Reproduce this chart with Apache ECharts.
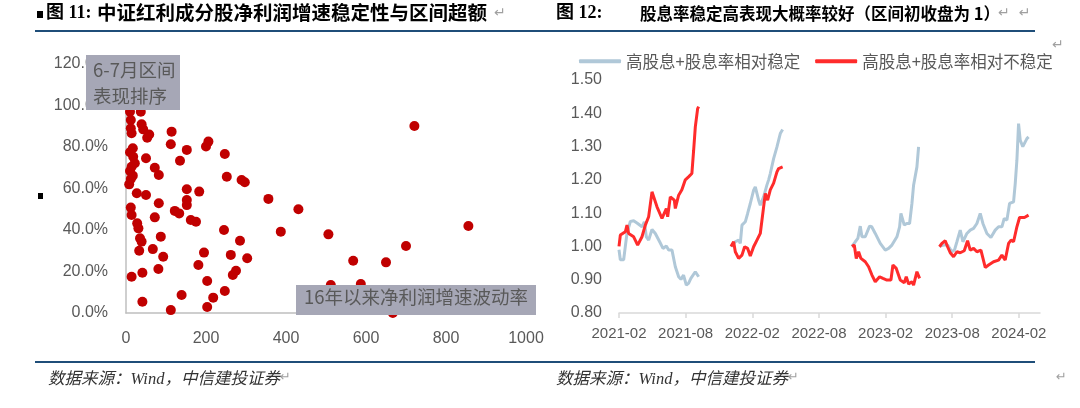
<!DOCTYPE html>
<html>
<head>
<meta charset="utf-8">
<script src="https://cdn.jsdelivr.net/npm/echarts@6/dist/echarts.min.js"></script>
<style>
  html, body { margin: 0; padding: 0; background: #fff; }
  #chart { width: 1080px; height: 408px; }
</style>
</head>
<body>
<div id="chart"></div>
<script>
// 图11：x = 16年以来净利润增速波动率, y = 6-7月区间表现排序(%)
var scatterPoints = [
  [10, 97], [37, 97], [12, 93], [39, 91], [12, 89], [43, 88.5], [14, 86.6], [53, 84.5], [58, 86],
  [114, 87.4], [112, 81.3], [206, 82.6], [200, 80.2], [152, 78.6], [247, 76.6], [17, 79.4], [10, 77.5],
  [50, 74.6], [18, 75.3], [135, 73.4], [22, 72.2], [14, 70.5], [10, 68.4], [17, 66.2], [12, 64.6], [8, 62],
  [72, 70], [82, 66.5], [252, 65.7], [289, 64.1], [297, 63], [27, 57.7], [50, 56.9], [152, 59.6], [183, 58.5],
  [356, 55], [431, 50], [82, 52.9], [152, 54.5], [152, 52], [12, 50.8], [14, 47.2], [72, 46.1], [122, 49.2],
  [133, 48], [162, 44.8], [175, 44], [28, 43.2], [31, 40.8], [245, 40], [387, 39.2], [285, 34.8], [35, 36],
  [39, 34.4], [87, 36.8], [67, 30.8], [33, 30], [93, 27.1], [195, 29.1], [262, 28], [303, 26.4], [181, 23.1],
  [81, 21.2], [275, 20.4], [267, 18.3], [41, 19.4], [14, 17.5], [203, 15.4], [247, 10.6], [139, 8.7],
  [218, 7.4], [203, 2.9], [41, 5.4], [112, 1.4], [721, 90.1], [506, 37.9], [856, 41.9], [568, 25.2],
  [650, 24.4], [700, 32.3], [512, 13.5], [587, 14], [667, 0]
];

// 图12：x = 自2021-02起的月数, y = 区间净值(区间初收盘为1)
var stableName = '高股息+股息率相对稳定';
var unstableName = '高股息+股息率相对不稳定';
var stableSegs = [
  [[0, 0.99], [0.12, 0.96], [0.42, 0.96], [0.57, 1.00], [0.72, 1.04], [1.02, 1.075], [1.32, 1.077], [1.68, 1.069],
   [2.07, 1.059], [2.28, 1.074], [2.46, 1.029], [2.67, 1.019], [2.97, 1.051], [3.27, 1.039], [3.66, 1.014],
   [3.96, 0.994], [4.26, 1.001], [4.47, 0.989], [4.77, 0.989], [5.07, 0.939], [5.37, 0.909], [5.58, 0.901],
   [5.81, 0.914], [6.06, 0.884], [6.26, 0.889], [6.47, 0.904], [6.65, 0.90], [6.87, 0.924], [7.17, 0.909]],
  [[10.08, 1.0], [10.47, 1.014], [10.77, 1.019], [10.92, 1.009], [11.07, 1.064], [11.37, 1.074], [11.58, 1.099],
   [11.82, 1.129], [12.12, 1.169], [12.27, 1.179], [12.57, 1.139], [12.72, 1.124], [13.02, 1.149], [13.32, 1.185],
   [13.47, 1.2], [13.62, 1.219], [13.92, 1.264], [14.22, 1.299], [14.52, 1.339], [14.73, 1.351]],
  [[20.97, 1.0], [21.27, 1.014], [21.5, 1.024], [21.72, 1.061], [21.87, 1.029], [22.17, 1.029], [22.56, 1.061],
   [22.75, 1.059], [23.07, 1.039], [23.52, 1.009], [23.97, 0.989], [24.27, 0.994], [24.57, 1.004], [25.02, 1.029],
   [25.26, 1.059], [25.38, 1.099], [25.68, 1.064], [25.9, 1.069], [26.16, 1.069], [26.37, 1.129], [26.52, 1.184],
   [26.82, 1.239], [26.97, 1.299]],
  [[28.85, 1.0], [29.22, 1.004], [29.58, 1.004], [29.97, 0.984], [30.2, 0.989], [30.42, 1.014], [30.72, 1.049],
   [30.96, 1.014], [31.32, 1.039], [31.62, 1.049], [31.92, 1.054], [32.22, 1.069], [32.52, 1.099], [32.76, 1.069],
   [33.12, 1.039], [33.48, 1.027], [33.87, 1.049], [34.17, 1.059], [34.47, 1.059], [34.68, 1.084], [34.92, 1.079],
   [35.16, 1.129], [35.52, 1.134], [35.67, 1.189], [35.82, 1.259], [35.97, 1.369], [36.12, 1.319], [36.35, 1.30],
   [36.72, 1.324], [36.87, 1.329]]
];
var unstableSegs = [
  [[0, 1.00], [0.12, 1.034], [0.57, 1.044], [0.72, 1.064], [0.87, 1.039], [1.32, 1.029], [1.68, 1.004], [2.07, 1.029],
   [2.37, 1.064], [2.67, 1.089], [2.97, 1.164], [3.42, 1.119], [3.87, 1.084], [4.26, 1.114], [4.38, 1.089],
   [4.62, 1.149], [4.98, 1.139], [5.07, 1.114], [5.37, 1.154], [5.66, 1.17], [5.97, 1.20], [6.26, 1.209],
   [6.56, 1.219], [6.72, 1.289], [6.87, 1.359], [7.08, 1.414], [7.17, 1.42]],
  [[10.08, 1.0], [10.32, 1.014], [10.47, 0.984], [10.77, 0.964], [11.07, 0.974], [11.31, 0.999], [11.58, 0.994],
   [11.82, 0.971], [12.12, 0.999], [12.42, 1.019], [12.72, 1.039], [13.02, 1.119], [13.17, 1.159], [13.38, 1.139],
   [13.62, 1.17], [13.92, 1.19], [14.22, 1.224], [14.37, 1.234], [14.52, 1.229], [14.73, 1.239]],
  [[20.97, 1.0], [21.18, 1.004], [21.36, 0.964], [21.57, 0.984], [21.78, 0.964], [22.17, 0.954], [22.47, 0.939],
   [22.77, 0.914], [23.07, 0.894], [23.46, 0.909], [23.76, 0.904], [24.12, 0.899], [24.48, 0.899], [24.66, 0.944],
   [24.96, 0.934], [25.32, 0.899], [25.68, 0.891], [25.86, 0.909], [26.07, 0.887], [26.37, 0.894], [26.52, 0.884],
   [26.82, 0.924], [27.06, 0.904]],
  [[28.85, 0.999], [29.07, 1.009], [29.37, 1.017], [29.58, 0.999], [29.82, 0.981], [30.12, 0.969], [30.42, 0.984],
   [30.72, 0.981], [31.08, 0.987], [31.38, 1.017], [31.62, 0.989], [31.92, 0.994], [32.22, 0.984], [32.58, 0.989],
   [32.97, 0.937], [33.27, 0.944], [33.72, 0.954], [34.17, 0.959], [34.47, 0.974], [34.77, 0.959], [35.07, 1.009],
   [35.3, 1.019], [35.52, 1.014], [35.82, 1.059], [36.06, 1.087], [36.5, 1.087], [36.87, 1.094]]
];
var monthTicks = [0, 6, 12, 18, 24, 30, 36];

var FONT = 'Liberation Sans, Noto Sans CJK SC, sans-serif';
var CJK = 'Noto Sans CJK SC, sans-serif';
var labelColor = '#595959';
var stableColor = '#b0c8d8';
var unstableColor = '#ff2b2b';
var boxColor = '#a6a7b6';

function monthLabel(m) {
  var total = 1 + Math.round(m);
  var y = 2021 + Math.floor(total / 12);
  var mo = (total % 12) + 1;
  return y + '-' + (mo < 10 ? '0' + mo : mo);
}

var series = [{
  type: 'scatter',
  xAxisIndex: 0,
  yAxisIndex: 0,
  data: scatterPoints,
  symbolSize: 10,
  itemStyle: { color: '#c00000', opacity: 1 }
}];
stableSegs.forEach(function (seg) {
  series.push({
    name: stableName, type: 'line', xAxisIndex: 1, yAxisIndex: 1, data: seg,
    showSymbol: false, lineStyle: { color: stableColor, width: 3 }, itemStyle: { color: stableColor }
  });
});
unstableSegs.forEach(function (seg) {
  series.push({
    name: unstableName, type: 'line', xAxisIndex: 1, yAxisIndex: 1, data: seg,
    showSymbol: false, lineStyle: { color: unstableColor, width: 3 }, itemStyle: { color: unstableColor }
  });
});

var chart = echarts.init(document.getElementById('chart'), null, { renderer: 'canvas' });
var option = {
  animation: false,
  backgroundColor: '#fff',
  grid: [
    { left: 126, top: 64, width: 400, height: 249, outerBoundsMode: 'none' },
    { left: 619, top: 80, width: 421, height: 233, outerBoundsMode: 'none' }
  ],
  legend: {
    data: [stableName, unstableName],
    left: 579,
    top: 53,
    padding: 0,
    icon: 'roundRect',
    itemWidth: 42,
    itemHeight: 4,
    itemGap: 15,
    textStyle: { color: labelColor, fontSize: 16.5, fontFamily: CJK }
  },
  xAxis: [
    {
      gridIndex: 0, type: 'value', min: 0, max: 1000, interval: 200,
      axisLine: { show: true, lineStyle: { color: '#bfbfbf', width: 1.5 } },
      axisTick: { show: false },
      splitLine: { show: false },
      axisLabel: {
        color: labelColor, fontSize: 16, fontFamily: FONT, margin: 18,
        formatter: function (v) { return String(v); }
      }
    },
    {
      gridIndex: 1, type: 'value', min: 0, max: 37.9,
      axisLine: { show: true, onZero: false, lineStyle: { color: '#d9d9d9', width: 1.5 } },
      axisTick: { show: true, length: 5, customValues: monthTicks, lineStyle: { color: '#d9d9d9', width: 1.5 } },
      splitLine: { show: false },
      axisLabel: {
        customValues: monthTicks, color: labelColor, fontSize: 15, fontFamily: FONT, margin: 13,
        formatter: function (v) { return monthLabel(v); }
      }
    }
  ],
  yAxis: [
    {
      gridIndex: 0, type: 'value', min: 0, max: 120, interval: 20,
      axisLine: { show: true, lineStyle: { color: '#bfbfbf', width: 1.5 } },
      axisTick: { show: false },
      splitLine: { show: false },
      axisLabel: {
        color: labelColor, fontSize: 16, fontFamily: FONT, margin: 18,
        formatter: function (v) { return v.toFixed(1) + '%'; }
      }
    },
    {
      gridIndex: 1, type: 'value', min: 0.8, max: 1.5, interval: 0.1,
      axisLine: { show: false },
      axisTick: { show: false },
      splitLine: { show: false },
      axisLabel: {
        color: labelColor, fontSize: 16, fontFamily: FONT, margin: 17,
        formatter: function (v) { return v.toFixed(2); }
      }
    }
  ],
  series: series,
  graphic: [
    // 标题
    { type: 'rect', left: 37, top: 11, shape: { width: 6, height: 7 }, style: { fill: '#000' } },
    { type: 'text', left: 46, top: 4, style: { text: '图 11:', fill: '#000', font: 'bold 18px Liberation Serif, ' + CJK } },
    {
      type: 'text', left: 97, top: 3,
      style: { text: '中证红利成分股净利润增速稳定性与区间超额', fill: '#000', font: 'bold 19.5px ' + CJK }
    },
    { type: 'text', left: 494, top: 6, style: { text: '↵', fill: '#a0a0a0', font: '14px DejaVu Sans' } },
    { type: 'text', left: 556, top: 4, style: { text: '图 12:', fill: '#000', font: 'bold 18px Liberation Serif, ' + CJK } },
    {
      type: 'text', left: 640, top: 5,
      style: { text: '股息率稳定高表现大概率较好（区间初收盘为 1）', fill: '#000', font: 'bold 16.5px ' + CJK }
    },
    { type: 'text', left: 998, top: 6, style: { text: '↵  ↵', fill: '#a0a0a0', font: '14px DejaVu Sans' } },
    { type: 'text', left: 1052, top: 38, style: { text: '↵', fill: '#a0a0a0', font: '14px DejaVu Sans' } },
    // 分隔线
    { type: 'rect', left: 35, top: 30, shape: { width: 1000, height: 2 }, style: { fill: '#1f4e79' } },
    { type: 'rect', left: 35, top: 361, shape: { width: 1000, height: 2 }, style: { fill: '#1f4e79' } },
    // 左侧小方块
    { type: 'rect', left: 38, top: 193, shape: { width: 5, height: 6 }, style: { fill: '#000' } },
    // 注释框
    {
      type: 'rect', left: 86, top: 55, z: 100, zlevel: 2,
      shape: { width: 94, height: 55 }, style: { fill: boxColor }
    },
    {
      type: 'text', left: 93, top: 57, z: 101, zlevel: 2,
      style: { text: '6-7月区间\n表现排序', fill: '#595959', font: '18.5px ' + CJK, align: 'center', lineHeight: 26, width: 80 }
    },
    {
      type: 'rect', left: 296, top: 285, z: 100, zlevel: 2,
      shape: { width: 240, height: 30 }, style: { fill: boxColor }
    },
    {
      type: 'text', left: 304, top: 288, z: 101, zlevel: 2,
      style: { text: '16年以来净利润增速波动率', fill: '#595959', font: '18.5px ' + CJK }
    },
    // 数据来源
    {
      type: 'text', left: 48, top: 371,
      style: { text: '数据来源：Wind，中信建投证券', fill: '#333', font: 'italic 16.5px Liberation Serif, ' + CJK }
    },
    { type: 'text', left: 280, top: 371, style: { text: '↵', fill: '#a0a0a0', font: '13px DejaVu Sans' } },
    {
      type: 'text', left: 556, top: 371,
      style: { text: '数据来源：Wind，中信建投证券', fill: '#333', font: 'italic 16.5px Liberation Serif, ' + CJK }
    },
    { type: 'text', left: 788, top: 371, style: { text: '↵', fill: '#a0a0a0', font: '13px DejaVu Sans' } },
    { type: 'text', left: 1056, top: 371, style: { text: '↵', fill: '#a0a0a0', font: '13px DejaVu Sans' } }
  ]
};
chart.setOption(option);
</script>
</body>
</html>
